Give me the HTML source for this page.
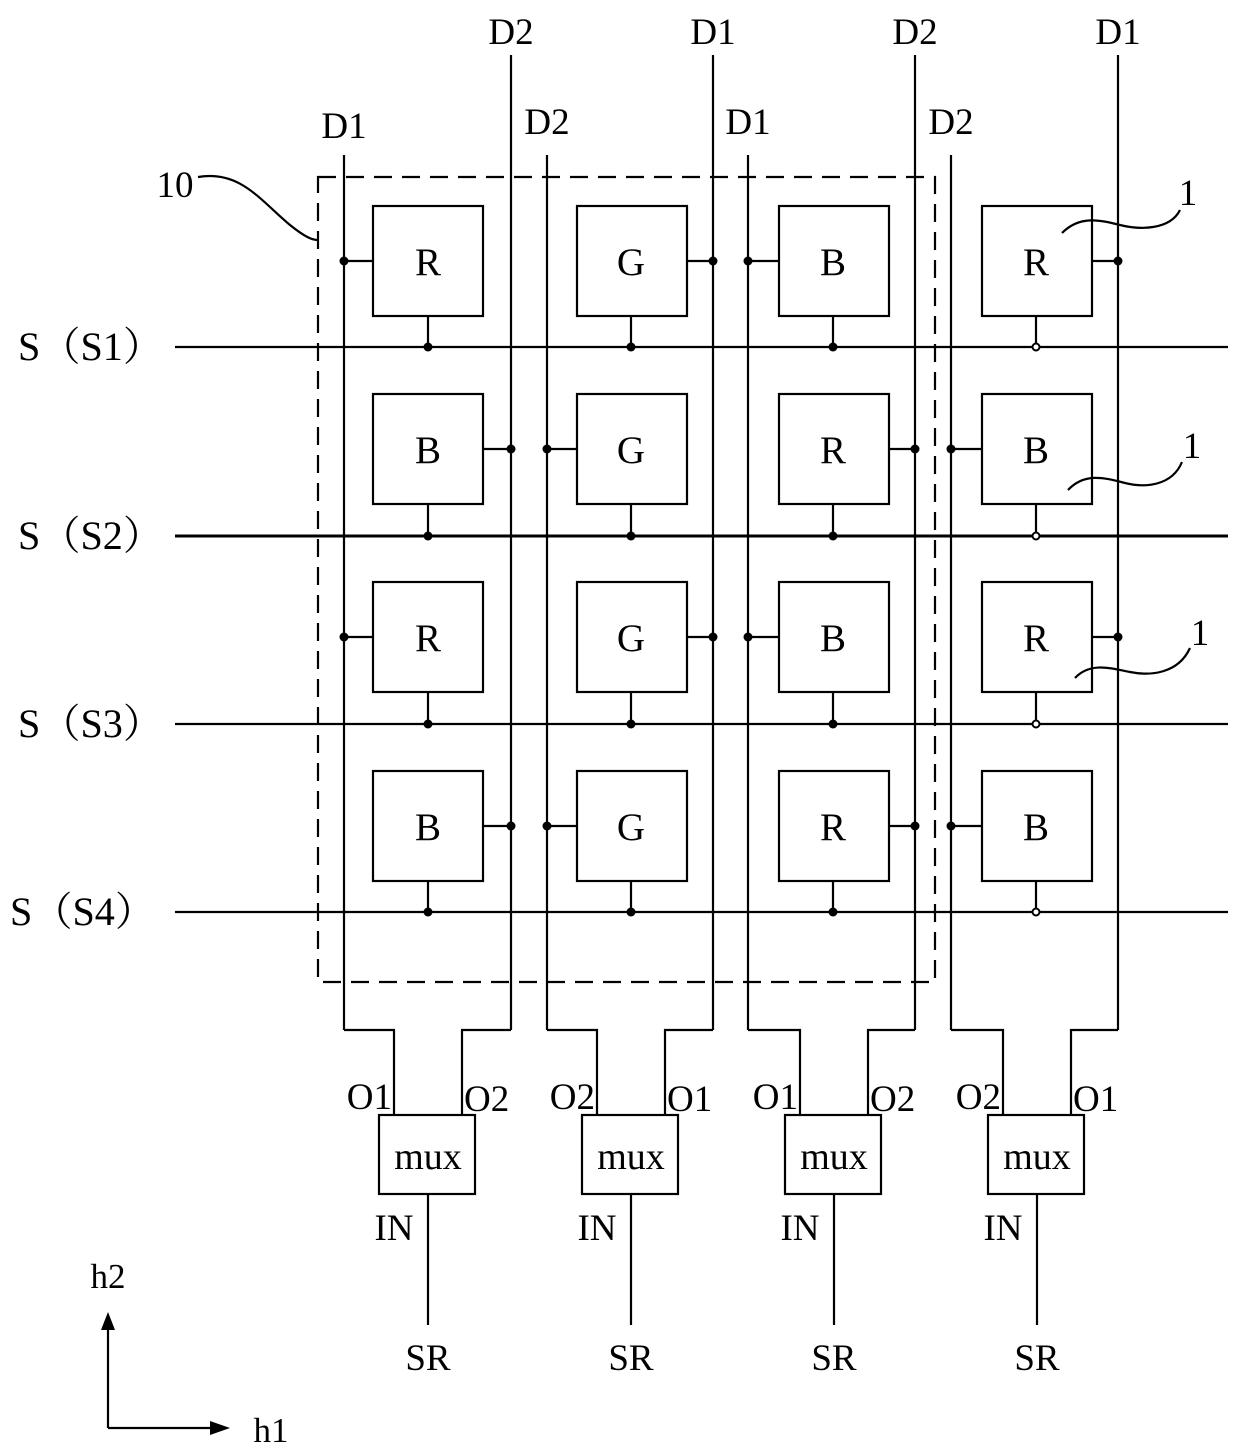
<!DOCTYPE html>
<html><head><meta charset="utf-8"><style>
html,body{margin:0;padding:0;background:#fff;}
svg{display:block}
text{font-family:"Liberation Serif","Noto Serif CJK SC",serif;fill:#000;}
</style></head><body>
<svg id="s" width="1240" height="1455" viewBox="0 0 1240 1455" xmlns="http://www.w3.org/2000/svg" stroke="#000" stroke-width="2.2" fill="none">
<g id="g"></g>
</svg>
<script>
var g=document.getElementById('g'),h='';
function L(a,b,c,d,w){h+='<line x1="'+a+'" y1="'+b+'" x2="'+c+'" y2="'+d+'"'+(w?' stroke-width="'+w+'"':'')+'/>';}
function T(x,y,t,s,a,tl){h+='<text x="'+x+'" y="'+y+'" font-size="'+(s||37)+'" stroke="none" text-anchor="'+(a||'middle')+'"'+(tl?' textLength="'+tl+'" lengthAdjust="spacingAndGlyphs"':'')+'>'+t+'</text>';}
function D(x,y){h+='<circle cx="'+x+'" cy="'+y+'" r="4.5" fill="#000" stroke="none"/>';}
function O(x,y){h+='<circle cx="'+x+'" cy="'+y+'" r="3.5" fill="#fff" stroke-width="2"/>';}
var tall=[511,713,915,1118], sht=[344,547,748,951];
tall.forEach(function(x){L(x,55,x,1030);});
sht.forEach(function(x){L(x,155,x,1030);});
T(511,44,'D2');T(713,44,'D1');T(915,44,'D2');T(1118,44,'D1');
T(344,138,'D1');T(547,134,'D2');T(748,134,'D1');T(951,134,'D2');
var sy=[347,536,724,912];
sy.forEach(function(y,i){L(175,y,1228,y,i==1?3:2.2);T(i==3?10:18,y+13,'S（S'+(i+1)+'）',40,'start',145);});
var cx=[428,631,833,1036], cy=[261,449,637,826], bl=[373,577,779,982];
var lab=[['R','G','B','R'],['B','G','R','B'],['R','G','B','R'],['B','G','R','B']];
for(var r=0;r<4;r++){for(var c=0;c<4;c++){
 var x0=bl[c],y0=cy[r]-55;
 h+='<rect x="'+x0+'" y="'+y0+'" width="110" height="110"/>';
 T(cx[c],cy[r]+14,lab[r][c],39);
 L(cx[c],y0+110,cx[c],sy[r]);
 if(c==3)O(cx[c],sy[r]);else D(cx[c],sy[r]);
 var even=(r%2==0), lx;
 if(even){ lx=(c%2==0)?sht[c]:tall[c]; }
 else { lx=(c%2==0)?tall[c]:sht[c]; }
 var side=(lx<x0)?x0:x0+110;
 L(lx,cy[r],side,cy[r]);D(lx,cy[r]);
}}
h+='<rect x="318" y="177" width="617" height="805" stroke-dasharray="18,10"/>';
h+='<path d="M198,177 C240,170 260,200 290,225 C305,237 312,240 318,240"/>';
T(175,197,'10',37);
h+='<path d="M1062,233 C1080,215 1100,220 1120,225 C1140,230 1170,230 1180,210"/>';T(1188,205,'1',37);
h+='<path d="M1068,490 C1085,472 1105,478 1125,483 C1145,488 1172,486 1182,462"/>';T(1192,458,'1',37);
h+='<path d="M1075,678 C1090,662 1110,668 1130,672 C1150,676 1178,674 1190,648"/>';T(1200,645,'1',37);
var mx=[379,582,785,988];
var ol=[['O1','O2'],['O2','O1'],['O1','O2'],['O2','O1']];
for(var i=0;i<4;i++){
 var m=mx[i],l1=m+15,l2=m+83,mc=m+49;
 var left=Math.min(sht[i],tall[i]),right=Math.max(sht[i],tall[i]);
 h+='<polyline points="'+left+',1030 '+l1+',1030 '+l1+',1115"/>';
 h+='<polyline points="'+right+',1030 '+l2+',1030 '+l2+',1115"/>';
 h+='<rect x="'+m+'" y="1115" width="96" height="79"/>';
 T(mc,1169,'mux',38);
 L(mc,1194,mc,1325);
 T(l1-2,1109,ol[i][0],37,'end');T(l2+2,1111,ol[i][1],37,'start');
 T(mc-34,1240,'IN',37);
 T(mc,1370,'SR',37);
}
L(108,1428,108,1316);h+='<path d="M101,1330 L108,1312 L115,1330 Z" fill="#000" stroke="none"/>';
L(108,1428,222,1428);h+='<path d="M210,1421 L230,1428 L210,1435 Z" fill="#000" stroke="none"/>';
T(108,1288,'h2',35);T(271,1442,'h1',35);
g.innerHTML=h;
</script>
</body></html>
